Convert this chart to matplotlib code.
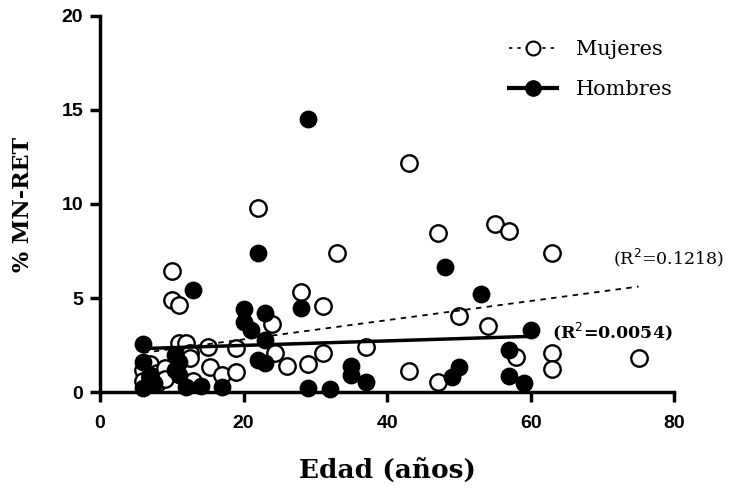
import numpy as np
import matplotlib
matplotlib.use("Agg")
import matplotlib.pyplot as plt
from matplotlib.lines import Line2D

# Mujeres (circulos abiertos)
edad_muj = [6, 6, 7, 7, 8, 8, 9, 9, 10, 10, 11, 11, 12, 12.5, 12.5, 13,
            15, 15.3, 17, 19, 19, 22, 24, 24.3, 26, 28, 29, 31, 31, 33,
            37, 43, 43, 47, 47, 50, 54, 55, 57, 58, 63, 63, 63, 75]
mnret_muj = [1.2, 0.6, 1.5, 0.8, 0.5, 1.0, 1.3, 0.7, 6.44, 4.9, 4.65, 2.6, 2.6, 2.1, 1.8, 0.6,
             2.4, 1.35, 0.92, 2.35, 1.1, 9.8, 3.6, 2.07, 1.37, 5.3, 1.5, 4.57, 2.1, 7.4,
             2.4, 12.2, 1.13, 8.45, 0.56, 4.06, 3.53, 8.94, 8.58, 1.89, 7.39, 2.1, 1.22, 1.81]

# Hombres (circulos rellenos)
edad_hom = [6, 6, 6, 7, 7.5, 10.5, 11, 10.5, 11, 12, 13, 14, 17,
            20, 20, 21, 22, 22, 23, 23, 23, 28, 29, 29, 32, 35, 35, 37,
            48, 49, 50, 53, 57, 57, 59, 60]
mnret_hom = [2.57, 1.63, 0.25, 0.9, 0.5, 2.0, 1.6, 1.2, 0.9, 0.3, 5.44, 0.35, 0.3,
             4.41, 3.75, 3.3, 7.38, 1.7, 4.21, 2.8, 1.55, 4.5, 14.5, 0.25, 0.16, 1.37, 0.9, 0.55,
             6.67, 0.81, 1.35, 5.21, 2.25, 0.87, 0.51, 3.31]

# rectas de regresion (pendiente, ordenada)
fit_muj = (0.051, 1.79)
fit_hom = (0.012, 2.25)
r2_muj = "0.1218"
r2_hom = "0.0054"

serif = "DejaVu Serif"
plt.rcParams["font.family"] = ["Liberation Sans", "DejaVu Sans"]

fig = plt.figure(figsize=(7.48, 4.97), dpi=100)
ax = fig.add_axes([0.1337, 0.2107, 0.768, 0.7577])

ax.scatter(edad_muj, mnret_muj, s=140, facecolors="white", edgecolors="black",
           linewidths=1.7, zorder=3, clip_on=False)
ax.scatter(edad_hom, mnret_hom, s=140, facecolors="black", edgecolors="black",
           linewidths=1.0, zorder=4, clip_on=False)

xm = np.array([min(edad_muj), max(edad_muj)])
ax.plot(xm, fit_muj[0] * xm + fit_muj[1], color="black", lw=1.3,
        linestyle=(0, (3, 3)), zorder=5)
xh = np.array([min(edad_hom), max(edad_hom)])
ax.plot(xh, fit_hom[0] * xh + fit_hom[1], color="black", lw=2.5, zorder=5)

ax.text(71.5, 7.15, "(R$^2$=" + r2_muj + ")", fontsize=12.5, family=serif,
        va="center", ha="left")
ax.text(63.0, 3.2, "(R$^2$=" + r2_hom + ")", fontsize=12.5, family=serif,
        fontweight="bold", va="center", ha="left")

ax.set_xlim(0, 80)
ax.set_ylim(0, 20)
ax.set_xticks([0, 20, 40, 60, 80])
ax.set_yticks([0, 5, 10, 15, 20])
for s in ["top", "right"]:
    ax.spines[s].set_visible(False)
for s in ["left", "bottom"]:
    ax.spines[s].set_linewidth(2.5)
ax.tick_params(direction="out", length=7, width=2.5, labelsize=14)
ax.tick_params(axis="x", pad=9)
ax.tick_params(axis="y", pad=5)
for lab in ax.get_xticklabels() + ax.get_yticklabels():
    lab.set_fontweight("bold")

ax.set_xlabel("Edad (años)", family=serif, fontweight="bold", fontsize=19, labelpad=19)
ax.set_ylabel("% MN-RET", family=serif, fontweight="bold", fontsize=16, labelpad=20)

handles = [
    Line2D([0], [0], color="black", lw=1.2, linestyle=(0, (2, 3)), marker="o",
           markersize=10, markerfacecolor="white", markeredgewidth=1.5),
    Line2D([0], [0], color="black", lw=3, marker="o", markersize=11,
           markerfacecolor="black"),
]
ax.legend(handles, ["Mujeres", "Hombres"], loc="upper left",
          bbox_to_anchor=(0.68, 0.985), frameon=False, handlelength=2.3,
          handletextpad=0.9, labelspacing=1.0, prop={"family": serif, "size": 15})

fig.savefig("out.png", dpi=100)
